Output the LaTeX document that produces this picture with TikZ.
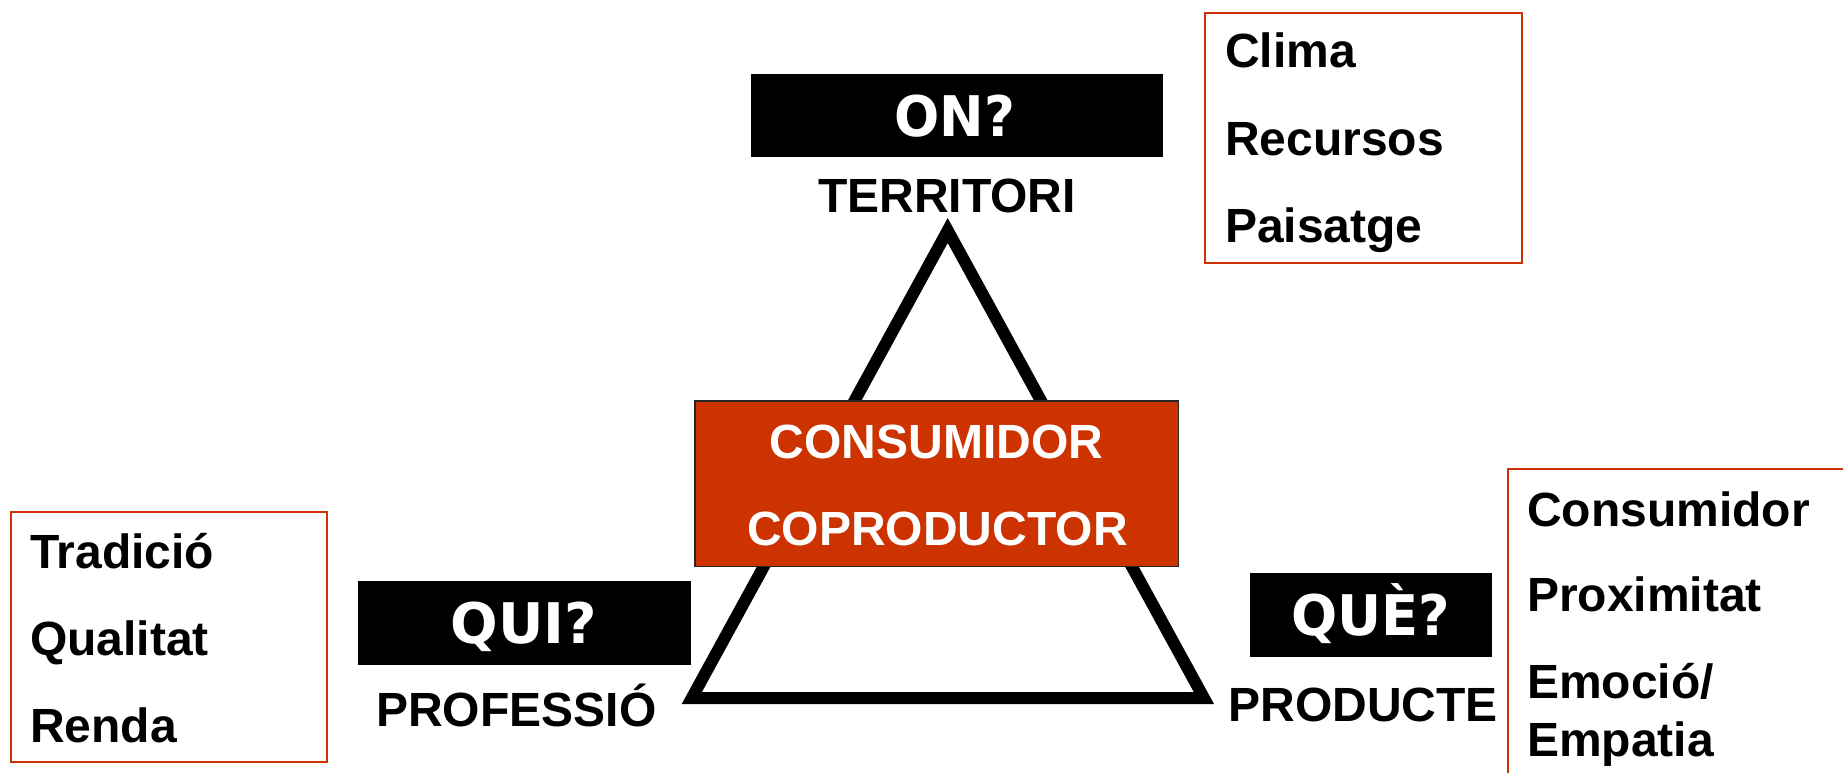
\documentclass[tikz,border=0pt]{standalone}
\usepackage{fontspec}
\setmainfont{Liberation Sans}
\newfontfamily\qfont{DejaVu Sans}
\definecolor{boxred}{RGB}{204,51,0}
\tikzset{
  txt/.style={inner sep=0pt, outer sep=0pt, font=\fontsize{48}{48}\selectfont\bfseries},
  lbl/.style={txt, anchor=base west},
  ctr/.style={txt, anchor=base},
  qbox/.style={fill=black, draw=none, inner sep=0pt},
  qtxt/.style={inner sep=0pt, anchor=base, text=white, font=\fontsize{56}{56}\qfont\bfseries},
  listbox/.style={draw=boxred, line width=2.2pt, fill=white, inner sep=0pt},
  redbox/.style={fill=boxred, draw=black!85, line width=1.5pt, inner sep=0pt},
}
\begin{document}
\begin{tikzpicture}[x=1pt,y=-1pt]
\clip (0,0) rectangle (1843,773);
\fill[white] (0,0) rectangle (1843,773);

% triangle
\coordinate (apex) at (947.7,230.5);
\coordinate (bl) at (691.8,698);
\coordinate (br) at (1203.9,698);
\draw[line width=12pt, line join=miter, miter limit=10] (apex) -- (bl) -- (br) -- cycle;

% central red box
\node[redbox, minimum width=483.5pt, minimum height=165.5pt] (cc) at (936.5,483.5) {};
\node[ctr, text=white] (c1) at (936.5,458) {CONSUMIDOR};
\node[ctr, text=white] (c2) at (937.5,545) {COPRODUCTOR};

% ON? / TERRITORI
\node[qbox, minimum width=412pt, minimum height=83pt] (onb) at (957,115.5) {};
\node[qtxt] (on) at (955,136) {\scalebox{0.95}[1]{ON?}};
\node[ctr] (terr) at (947,212) {TERRITORI};

% top-right list
\node[listbox, minimum width=317pt, minimum height=250pt] (boxT) at (1363.5,138) {};
\node[lbl] (clima) at (1225,68) {Clima};
\node[lbl] (recursos) at (1225,155) {Recursos};
\node[lbl] (paisatge) at (1225,242) {Paisatge};

% QUI? / PROFESSIÓ
\node[qbox, minimum width=333.3pt, minimum height=84pt] (quib) at (524.35,623) {};
\node[qtxt] (qui) at (524,643.5) {QUI?};
\node[ctr] (prof) at (516.3,726) {PROFESSIÓ};

% left list
\node[listbox, minimum width=315.7pt, minimum height=250pt] (boxL) at (168.85,637) {};
\node[lbl] (trad) at (30,568) {Tradició};
\node[lbl] (qual) at (30,655) {Qualitat};
\node[lbl] (renda) at (30,742) {Renda};

% QUÈ? / PRODUCTE
\node[qbox, minimum width=241.7pt, minimum height=83.4pt] (queb) at (1370.85,615) {};
\node[qtxt] (que) at (1371,635.5) {\scalebox{0.97}[1]{QUÈ?}};
\node[ctr] (prod) at (1363,721) {PRODUCTE};

% right list (runs off the page)
\node[listbox, minimum width=351.7pt, minimum height=321pt] (boxR) at (1684.15,629.5) {};
\node[lbl] (cons) at (1527,526) {Consumidor};
\node[lbl] (prox) at (1527,611.7) {Proximitat};
\node[lbl] (emo) at (1527,698) {Emoció/};
\node[lbl] (emp) at (1527,756.7) {Empatia};
\end{tikzpicture}
\end{document}
